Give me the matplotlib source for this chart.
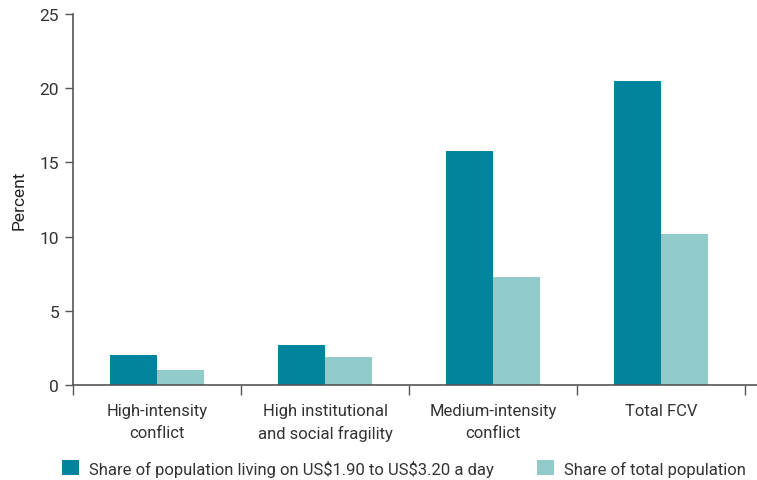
import matplotlib.pyplot as plt
import numpy as np

plt.rcParams['font.family'] = ['Roboto', 'DejaVu Sans']

categories = ["High-intensity\nconflict", "High institutional\nand social fragility",
              "Medium-intensity\nconflict", "Total FCV"]
share_poor = [2.05, 2.7, 15.8, 20.5]
share_total = [1.0, 1.9, 7.3, 10.2]
series_names = [r"Share of population living on US\$1.90 to US\$3.20 a day",
                "Share of total population"]

dark = "#02849E"
light = "#90CBC9"
axis_col = "#555555"

fig = plt.figure(figsize=(7.57, 4.81), dpi=100)
ax = fig.add_axes([73 / 757, 1 - 386 / 481, 684 / 757, 371 / 481])

x = np.arange(len(categories))
w = 0.28
b1 = ax.bar(x - w / 2, share_poor, w, color=dark, label=series_names[0])
b2 = ax.bar(x + w / 2, share_total, w, color=light, label=series_names[1])

ax.set_ylim(0, 25)
ax.set_xlim(-0.5, 3.57)
ax.set_yticks([0, 5, 10, 15, 20, 25])
ax.set_ylabel("Percent", fontsize=12.5, color="#222222", labelpad=9)

# category boundaries get the ticks, labels sit between them
ax.set_xticks(np.arange(-0.5, 4, 1))
ax.set_xticklabels([])
ax.set_xticks(x, minor=True)
ax.set_xticklabels(categories, minor=True, fontsize=12, color="#333333",
                   linespacing=1.55)
ax.tick_params(axis="x", which="minor", length=0, pad=13)
ax.tick_params(axis="x", which="major", length=7, width=1, color=axis_col)
ax.tick_params(axis="y", length=6, width=1, color=axis_col, labelsize=12.5,
               labelcolor="#333333", pad=4)

for s in ["top", "right"]:
    ax.spines[s].set_visible(False)
for s in ["left", "bottom"]:
    ax.spines[s].set_color(axis_col)
    ax.spines[s].set_linewidth(1.2)

fig.legend(handles=[b1, b2], loc="lower left", bbox_to_anchor=(47 / 757, -0.024),
           ncol=2, frameon=False, fontsize=12, handlelength=1.0, handleheight=1.0,
           handletextpad=0.6, columnspacing=2.6, labelcolor="#333333")

fig.savefig("out.png", dpi=100)
